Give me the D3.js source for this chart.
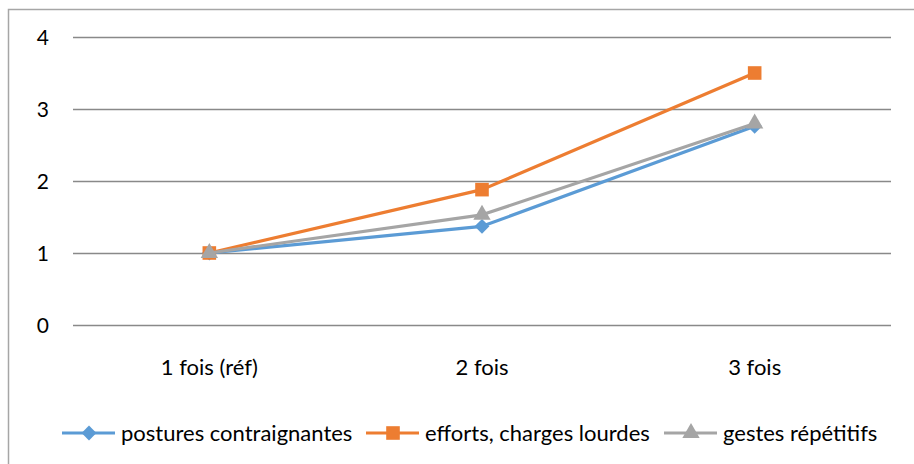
<!DOCTYPE html>
<html>
<head>
  <meta charset="utf8">
  <style type="text/css">
    body { margin: 0; background: #fff; }
    text { font-family: Lato, "Open Sans", sans-serif; fill: #000; }
  </style>
</head>
<body>
<script src="https://d3js.org/d3.v7.min.js"></script>
<script type="text/javascript">

var width = 914, height = 464;

var categories = ['1 fois (réf)', '2 fois', '3 fois'];
var yTicks = [0, 1, 2, 3, 4];

var postures = [1, 1.37, 2.76];
var efforts = [1, 1.88, 3.5];
var gestes = [1, 1.53, 2.8];

var series = [
  { name: 'postures contraignantes', values: postures, color: '#5B9BD5', marker: d3.symbolDiamond2, size: 140 },
  { name: 'efforts, charges lourdes', values: efforts, color: '#ED7D31', marker: d3.symbolSquare, size: 185 },
  { name: 'gestes répétitifs', values: gestes, color: '#A5A5A5', marker: d3.symbolTriangle, size: 130 }
];

var svg = d3.select('body').append('svg')
  .attr('width', width)
  .attr('height', height);

// chart frame, runs off the right and bottom edges
svg.append('rect')
  .attr('x', 8.5).attr('y', 9.5)
  .attr('width', 930).attr('height', 480)
  .attr('fill', 'none')
  .attr('stroke', '#a6a6a6')
  .attr('stroke-width', 1.5);

var x = d3.scaleBand().domain(categories).range([73, 891]);
var y = d3.scaleLinear().domain([0, 4]).range([325, 37]);

function cx(i) { return x(categories[i]) + x.bandwidth() / 2; }

// gridlines
svg.append('g').selectAll('line')
  .data(yTicks)
  .enter().append('line')
  .attr('x1', 73).attr('x2', 891)
  .attr('y1', function(d) { return Math.round(y(d)) + 0.5; })
  .attr('y2', function(d) { return Math.round(y(d)) + 0.5; })
  .attr('stroke', '#898989')
  .attr('stroke-width', 1.5);

svg.append('g').selectAll('text')
  .data(yTicks)
  .enter().append('text')
  .attr('x', 49)
  .attr('y', function(d) { return y(d); })
  .attr('dy', '0.36em')
  .attr('text-anchor', 'end')
  .style('font-size', '21px')
  .text(function(d) { return d; });

svg.append('g').selectAll('text')
  .data(categories)
  .enter().append('text')
  .attr('x', function(d, i) { return cx(i); })
  .attr('y', 375)
  .attr('text-anchor', 'middle')
  .style('font-size', '22px')
  .text(function(d) { return d; });

var line = d3.line()
  .x(function(d, i) { return cx(i); })
  .y(function(d) { return y(d); });

series.forEach(function(s) {
  var g = svg.append('g');
  g.append('path')
    .attr('d', line(s.values))
    .attr('fill', 'none')
    .attr('stroke', s.color)
    .attr('stroke-width', 3.2)
    .attr('stroke-linejoin', 'round');
  g.selectAll('path.m')
    .data(s.values)
    .enter().append('path')
    .attr('class', 'm')
    .attr('d', d3.symbol().type(s.marker).size(s.size))
    .attr('transform', function(d, i) { return 'translate(' + cx(i) + ',' + y(d) + ')'; })
    .attr('fill', s.color);
});

// legend
var legendX = [62, 366, 664];
var legend = svg.append('g').selectAll('g')
  .data(series)
  .enter().append('g')
  .attr('transform', function(d, i) { return 'translate(' + legendX[i] + ',433)'; });

legend.append('line')
  .attr('x1', 0).attr('x2', 53)
  .attr('stroke', function(d) { return d.color; })
  .attr('stroke-width', 3.2);

legend.append('path')
  .attr('d', function(d) { return d3.symbol().type(d.marker).size(d.size)(); })
  .attr('transform', 'translate(27,0)')
  .attr('fill', function(d) { return d.color; });

legend.append('text')
  .attr('x', 59)
  .attr('dy', '0.36em')
  .style('font-size', '22px')
  .text(function(d) { return d.name; });

</script>
</body>
</html>
